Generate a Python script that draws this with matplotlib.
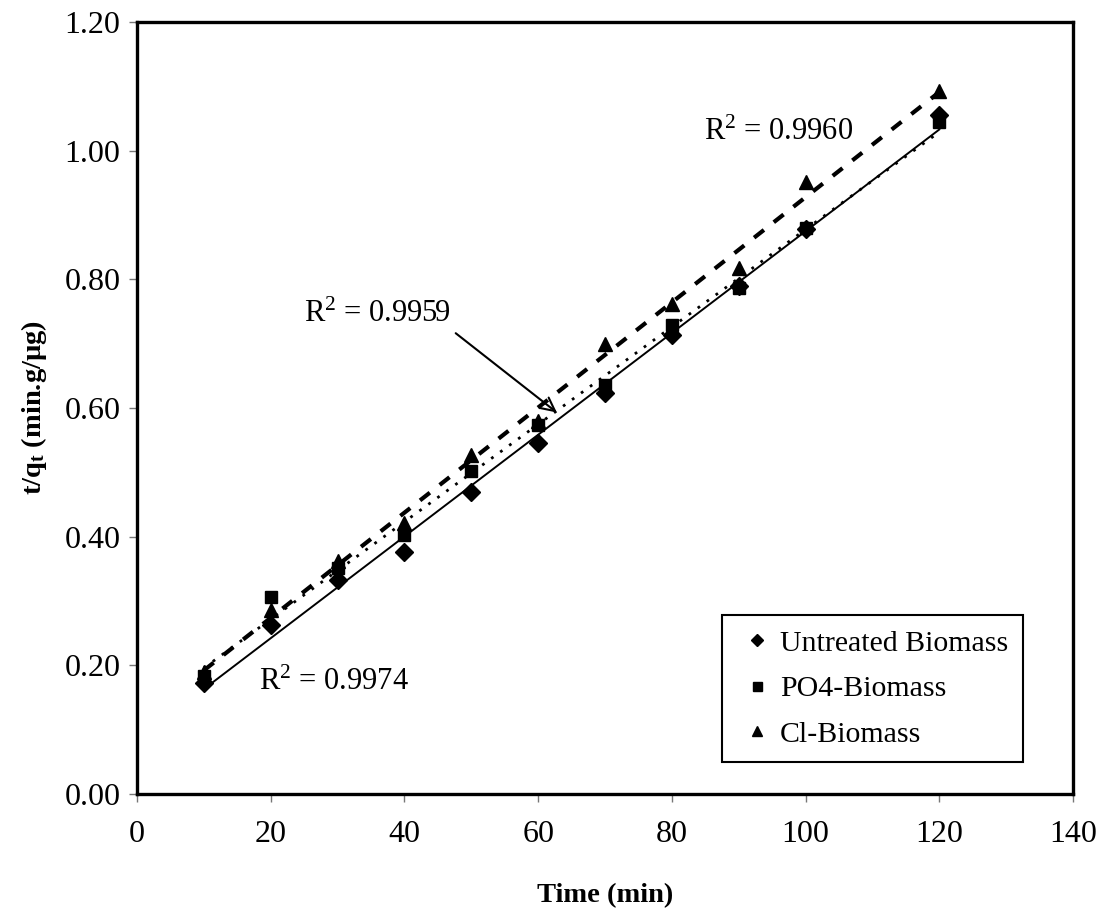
import numpy as np
import matplotlib
matplotlib.use("Agg")
import matplotlib.pyplot as plt

# Pseudo-second-order kinetics: t/qt versus contact time
time_min = [10, 20, 30, 40, 50, 60, 70, 80, 90, 100, 120]
untreated = [0.173, 0.263, 0.333, 0.376, 0.470, 0.546, 0.624, 0.714, 0.790, 0.878, 1.055]
po4 = [0.183, 0.306, 0.352, 0.403, 0.502, 0.574, 0.636, 0.729, 0.786, 0.880, 1.045]
cl = [0.190, 0.286, 0.362, 0.421, 0.527, 0.580, 0.700, 0.762, 0.818, 0.952, 1.092]

series_names = ["Untreated Biomass", "PO4-Biomass", "Cl-Biomass"]
r2_labels = ["R$^2$ = 0.9974", "R$^2$ = 0.9959", "R$^2$ = 0.9960"]

x_ticks = [0, 20, 40, 60, 80, 100, 120, 140]
y_ticks = [0.0, 0.2, 0.4, 0.6, 0.8, 1.0, 1.2]

plt.rcParams["font.family"] = ["Liberation Serif", "DejaVu Serif"]
plt.rcParams["mathtext.fontset"] = "custom"
plt.rcParams["mathtext.rm"] = "Liberation Serif"
plt.rcParams["mathtext.it"] = "Liberation Serif:italic"
plt.rcParams["mathtext.bf"] = "Liberation Serif:bold"

fig = plt.figure(figsize=(11.04, 9.14), dpi=100)
ax = fig.add_axes([137 / 1104, 1 - 794 / 914, (1073 - 137) / 1104, (794 - 22) / 914])

x = np.array(time_min, dtype=float)
markers = ["D", "s", "^"]
msizes = [9.0, 9.0, 9.5]
styles = [dict(linestyle="-", linewidth=1.4),
          dict(linestyle=(0, (1, 3)), linewidth=2.0),
          dict(linestyle=(0, (3, 3)), linewidth=3.0)]

for ys, name, mk, ms, st in zip([untreated, po4, cl], series_names, markers, msizes, styles):
    y = np.array(ys)
    ax.plot(x, y, linestyle="none", marker=mk, markersize=ms, color="black",
            label=name, zorder=3)
    slope, intercept = np.polyfit(x, y, 1)
    xf = np.array([x.min(), x.max()])
    ax.plot(xf, slope * xf + intercept, color="black", zorder=2, **st)

ax.set_xlim(0, 140)
ax.set_ylim(0, 1.2)
ax.set_xticks(x_ticks)
ax.set_yticks(y_ticks)
ax.set_xticklabels([str(v) for v in x_ticks])
ax.set_yticklabels([f"{v:.2f}" for v in y_ticks])
ax.tick_params(direction="out", length=6, width=1, color="#777777",
               labelsize=23, pad=6)
ax.tick_params(axis="x", pad=13)

for side in ["left", "top", "right", "bottom"]:
    ax.spines[side].set_linewidth(2.4)
    ax.spines[side].set_color("black")

ax.set_xlabel("Time (min)", fontsize=20.5, fontweight="bold", labelpad=24)
ax.set_ylabel(r"t/q$_\mathbf{t}$ (min.g/µg)", fontsize=20.5, fontweight="bold", labelpad=11)

# R-squared annotations for the fitted lines
ax.text(18.3, 0.173, r2_labels[0], fontsize=22, va="center", ha="left")
ax.annotate(r2_labels[1], xy=(62.8, 0.593), xytext=(25.0, 0.745),
            fontsize=22, va="center", ha="left",
            arrowprops=dict(arrowstyle="->", color="black", lw=1.5,
                            mutation_scale=24, shrinkA=2, shrinkB=0,
                            relpos=(1.0, 0.0)))
ax.text(84.8, 1.028, r2_labels[2], fontsize=22, va="center", ha="left")

leg = ax.legend(loc="upper left", bbox_to_anchor=(0.625, 0.232), fontsize=21.5,
                frameon=True, fancybox=False, edgecolor="black", framealpha=1,
                handlelength=1.35, handletextpad=0.1, labelspacing=0.62,
                borderpad=0.5, markerscale=0.72, borderaxespad=0)
leg.get_frame().set_linewidth(1.5)

fig.savefig("out.png", dpi=100)
